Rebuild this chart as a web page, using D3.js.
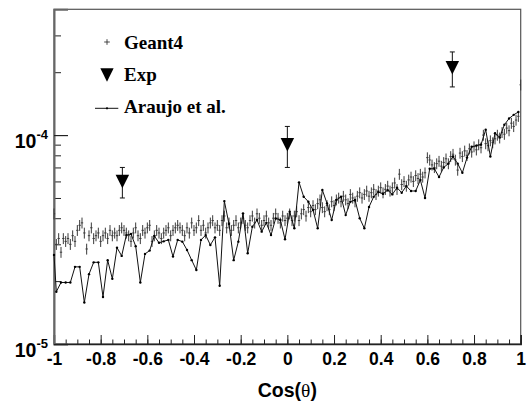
<!DOCTYPE html>
<html>
<head>
<meta charset="utf-8">
<script src="https://cdn.jsdelivr.net/npm/d3@7"></script>
<style>
  html, body { margin: 0; padding: 0; background: #fff; }
  svg { display: block; }
</style>
</head>
<body>
<svg id="chart" width="529" height="409"></svg>
<script>
// ---- data (cross sections in units of 1e-5) ----
// Geant4 histogram: bin centres from -1 to 1, step 0.01
const geantStart = -1, geantStep = 0.01;
const geantValues = [
  4.2, 3.0, 3.2, 2.75, 3.2, 3.1, 3.2, 3.0, 3.3, 3.1,
  3.5, 3.7, 3.8, 3.4, 2.85, 3.3, 3.6, 3.2, 3.3, 3.4,
  3.1, 3.3, 3.4, 3.2, 3.5, 3.3, 3.4, 3.3, 3.5, 3.6,
  3.5, 3.4, 3.3, 3.1, 3.4, 3.6, 3.3, 3.2, 3.5, 3.4,
  3.6, 3.7, 3.1, 3.3, 3.5, 3.4, 3.2, 3.4, 3.5, 3.6,
  3.3, 3.5, 3.6, 3.7, 3.6, 3.5, 3.3, 3.6, 3.4, 3.8,
  3.5, 3.6, 3.9, 3.5, 3.7, 3.4, 3.6, 3.8, 3.9, 3.6,
  3.7, 3.5, 3.9, 4.1, 3.6, 3.8, 3.5, 3.7, 3.9, 3.6,
  3.8, 4.0, 3.7, 3.6, 3.9, 4.1, 3.8, 4.2, 4.0, 3.7,
  3.9, 4.1, 3.8, 3.7, 4.0, 4.2, 4.0, 3.8, 4.1, 3.9,
  4.0, 4.2, 3.9, 4.1, 4.3, 3.9, 4.2, 4.4, 4.1, 4.5,
  4.3, 4.6, 4.4, 4.7, 4.9, 4.5, 4.3, 4.6, 4.4, 4.8,
  4.6, 4.9, 5.0, 4.8, 5.1, 4.9, 4.7, 5.2, 5.0, 4.8,
  5.1, 5.3, 5.0, 5.2, 5.4, 5.1, 5.3, 5.5, 5.2, 5.4,
  5.6, 5.3, 5.5, 5.7, 5.4, 5.6, 5.9, 5.5, 6.5, 5.8,
  6.0, 5.7, 6.1, 6.3, 6.0, 6.4, 6.2, 6.5, 6.3, 6.6,
  7.8, 7.6, 7.2, 7.0, 7.3, 7.5, 7.1, 7.4, 7.7, 7.3,
  7.9, 8.1, 7.6, 6.8, 8.2, 7.9, 8.4, 8.0, 8.6, 8.3,
  8.8, 8.5, 9.0, 8.7, 10.0, 9.1, 8.9, 9.4, 9.2, 9.6,
  10.0, 9.7, 10.3, 10.1, 10.8, 10.5, 11.4, 11.0, 11.8, 12.3,
  17.4
];
const geantRelError = 0.06;

// Araujo et al.: first point at -1, then every 0.02 from -0.99
const araujoFirstX = -1, araujoStart = -0.99, araujoStep = 0.02;
const araujoValues = [
  2.67,
  1.78, 1.97, 1.97, 1.97, 2.34, 2.34, 1.58, 2.16, 2.46, 2.46,
  1.68, 2.52, 2.05, 2.89, 2.64, 3.32, 3.36, 2.94, 1.97, 2.70,
  2.80, 3.29, 3.05, 3.10, 3.15, 2.62, 3.15, 3.09, 2.82, 2.52,
  2.26, 3.15, 3.32, 2.98, 3.24, 1.90, 4.83, 3.75, 2.52, 3.09,
  4.22, 2.72, 3.64, 3.92, 3.45, 3.80, 3.32, 3.99, 3.92, 3.17,
  4.30, 3.58, 5.94, 5.07, 4.80, 4.38, 3.58, 5.46, 4.71, 3.92,
  4.89, 5.07, 4.14, 4.80, 4.89, 4.00, 3.58, 4.53, 5.07, 5.34,
  5.23, 5.45, 5.20, 5.60, 5.30, 5.70, 5.40, 5.40, 6.10, 5.00,
  6.90, 6.90, 6.30, 7.00, 7.30, 7.90, 7.30, 6.60, 7.80, 8.80,
  8.90, 9.00, 10.6, 7.90, 10.2, 9.75, 11.2, 12.0, 12.5, 12.9
];

// Measured points
const expX = [-0.707, 0, 0.707];
const expValues = [6.0, 9.0, 21.0];
const expErrors = [1.0, 2.0, 4.0];

const unit = 1e-5;
const xMajorTicks = [-1, -0.8, -0.6, -0.4, -0.2, 0, 0.2, 0.4, 0.6, 0.8, 1];
const xTickLabels = ["-1", "-0.8", "-0.6", "-0.4", "-0.2", "0", "0.2", "0.4", "0.6", "0.8", "1"];
const yMajorExponents = [-5, -4];
const yMinorTicks = [2e-5, 3e-5, 4e-5, 5e-5, 6e-5, 7e-5, 8e-5, 9e-5, 2e-4, 3e-4];
const legendLabels = ["Geant4", "Exp", "Araujo et al."];
const xTitle = "Cos(";
const xTitleSymbol = "\u03b8";

// ---- layout ----
const svg = d3.select("#chart");
const frame = { left: 54, right: 520.7, top: 9.3, bottom: 344 };

const x = d3.scaleLinear().domain([-1, 1]).range([frame.left, frame.right]);
const y = d3.scaleLog().domain([1e-5, 4e-4]).range([frame.bottom, frame.top]);

svg.append("rect").attr("width", 529).attr("height", 409).attr("fill", "#fff");

// frame
svg.append("rect")
  .attr("x", frame.left).attr("y", frame.top)
  .attr("width", frame.right - frame.left).attr("height", frame.bottom - frame.top)
  .attr("fill", "none").attr("stroke", "#555").attr("stroke-width", 1.2);

const sansBold = "'Liberation Sans', Arial, Helvetica, sans-serif";
const serifBold = "'Liberation Serif', 'Times New Roman', Times, serif";

// x axis: minor ticks every 0.05, major ticks every 0.2 (ticks point inward)
const xMinor = d3.range(-1, 1.0001, 0.05).map(v => +v.toFixed(2));
svg.append("g")
  .attr("transform", `translate(0,${frame.bottom})`)
  .call(d3.axisBottom(x).tickValues(xMinor).tickSize(-4.5).tickFormat(""))
  .call(g => g.select(".domain").remove())
  .call(g => g.selectAll(".tick line").attr("stroke", "#222").attr("stroke-width", 1));

svg.append("g")
  .attr("transform", `translate(0,${frame.bottom})`)
  .call(d3.axisBottom(x).tickValues(xMajorTicks).tickSize(-9).tickPadding(9)
        .tickFormat((d, i) => xTickLabels[i]))
  .call(g => g.select(".domain").attr("stroke", "#222").attr("stroke-width", 1.5))
  .call(g => g.selectAll(".tick line").attr("stroke", "#222").attr("stroke-width", 1))
  .call(g => g.selectAll(".tick text")
        .attr("fill", "#000")
        .style("font-family", sansBold).style("font-weight", "bold").style("font-size", "17.5px"));

// y axis (log): minor ticks and decade ticks
svg.append("g")
  .attr("transform", `translate(${frame.left},0)`)
  .call(d3.axisLeft(y).tickValues(yMinorTicks).tickSize(-7).tickFormat(""))
  .call(g => g.select(".domain").remove())
  .call(g => g.selectAll(".tick line").attr("stroke", "#222").attr("stroke-width", 1));

svg.append("g")
  .attr("transform", `translate(${frame.left},0)`)
  .call(d3.axisLeft(y).tickValues(yMajorExponents.map(e => Math.pow(10, e))).tickSize(-14).tickFormat(""))
  .call(g => g.select(".domain").attr("stroke", "#666").attr("stroke-width", 2))
  .call(g => g.selectAll(".tick line").attr("stroke", "#222").attr("stroke-width", 1.2));

yMajorExponents.forEach(e => {
  const t = svg.append("text")
    .attr("x", 48).attr("y", y(Math.pow(10, e)) + 12.5)
    .attr("text-anchor", "end")
    .style("font-family", sansBold).style("font-weight", "bold").attr("fill", "#000");
  t.append("tspan").style("font-size", "19.5px").text("10");
  t.append("tspan").style("font-size", "13px").attr("dy", -8.5).text(String(e));
});

// x axis title
const title = svg.append("text")
  .attr("x", x(0)).attr("y", 396.5)
  .attr("text-anchor", "middle")
  .style("font-family", sansBold).style("font-weight", "bold").style("font-size", "19.5px")
  .attr("fill", "#000");
title.append("tspan").text(xTitle);
title.append("tspan").style("font-family", serifBold).style("font-weight", "normal").text(xTitleSymbol);
title.append("tspan").text(")");

// ---- data marks ----
const plot = svg.append("g");

// Geant4 crosses with error bars
const geant = geantValues.map((v, i) => ({ c: geantStart + i * geantStep, v: v * unit }));
const gSel = plot.append("g").attr("stroke", "#3a3a3a").attr("stroke-width", 1);
gSel.selectAll("line.v").data(geant).join("line").attr("class", "v")
  .attr("x1", d => x(d.c)).attr("x2", d => x(d.c))
  .attr("y1", d => y(d.v * (1 + geantRelError))).attr("y2", d => y(d.v * (1 - geantRelError)));
gSel.selectAll("line.h").data(geant).join("line").attr("class", "h")
  .attr("x1", d => x(Math.max(-1, d.c - geantStep / 2))).attr("x2", d => x(Math.min(1, d.c + geantStep / 2)))
  .attr("y1", d => y(d.v)).attr("y2", d => y(d.v));

// Araujo et al. line with small dots
const araujo = araujoValues.map((v, i) => ({
  c: i === 0 ? araujoFirstX : araujoStart + (i - 1) * araujoStep,
  v: v * unit
}));
plot.append("path").datum(araujo)
  .attr("fill", "none").attr("stroke", "#111").attr("stroke-width", 1)
  .attr("d", d3.line().x(d => x(d.c)).y(d => y(d.v)));
plot.append("g").selectAll("circle").data(araujo).join("circle")
  .attr("cx", d => x(d.c)).attr("cy", d => y(d.v)).attr("r", 1.2).attr("fill", "#000");

// Exp: downward triangles with error bars
const tri = (cx, cy, w, h) => `M${cx - w / 2},${cy - h / 2}L${cx + w / 2},${cy - h / 2}L${cx},${cy + h / 2}Z`;
const exp = expX.map((c, i) => ({ c, v: expValues[i] * unit, e: expErrors[i] * unit }));
const eSel = plot.append("g");
eSel.selectAll("line.err").data(exp).join("line").attr("class", "err")
  .attr("x1", d => x(d.c)).attr("x2", d => x(d.c))
  .attr("y1", d => y(d.v + d.e)).attr("y2", d => y(d.v - d.e))
  .attr("stroke", "#111").attr("stroke-width", 1);
["top", "bottom"].forEach(side => {
  eSel.selectAll(`line.cap-${side}`).data(exp).join("line").attr("class", `cap-${side}`)
    .attr("x1", d => x(d.c) - 2.5).attr("x2", d => x(d.c) + 2.5)
    .attr("y1", d => y(side === "top" ? d.v + d.e : d.v - d.e))
    .attr("y2", d => y(side === "top" ? d.v + d.e : d.v - d.e))
    .attr("stroke", "#111").attr("stroke-width", 1);
});
eSel.selectAll("path").data(exp).join("path")
  .attr("d", d => tri(x(d.c), y(d.v), 13.5, 13.5)).attr("fill", "#000");

// ---- legend ----
const legend = svg.append("g");
const legX = 107, legTextX = 124;
const legY = [42, 75, 108.3];
// cross
legend.append("path")
  .attr("d", `M${legX - 2.8},${legY[0]}H${legX + 2.8}M${legX},${legY[0] - 2.8}V${legY[0] + 2.8}`)
  .attr("stroke", "#333").attr("stroke-width", 0.9);
// triangle
legend.append("path").attr("d", tri(legX, legY[1], 13.3, 13.3)).attr("fill", "#000");
// line with dot
legend.append("line").attr("x1", 95).attr("x2", 118.3).attr("y1", legY[2]).attr("y2", legY[2])
  .attr("stroke", "#111").attr("stroke-width", 1);
legend.append("circle").attr("cx", legX).attr("cy", legY[2]).attr("r", 1.1).attr("fill", "#000");

legend.selectAll("text").data(legendLabels).join("text")
  .attr("x", legTextX).attr("y", (d, i) => [49, 80.5, 113][i])
  .style("font-family", serifBold).style("font-weight", "bold").style("font-size", "19px")
  .attr("fill", "#000")
  .text(d => d);
</script>
</body>
</html>
